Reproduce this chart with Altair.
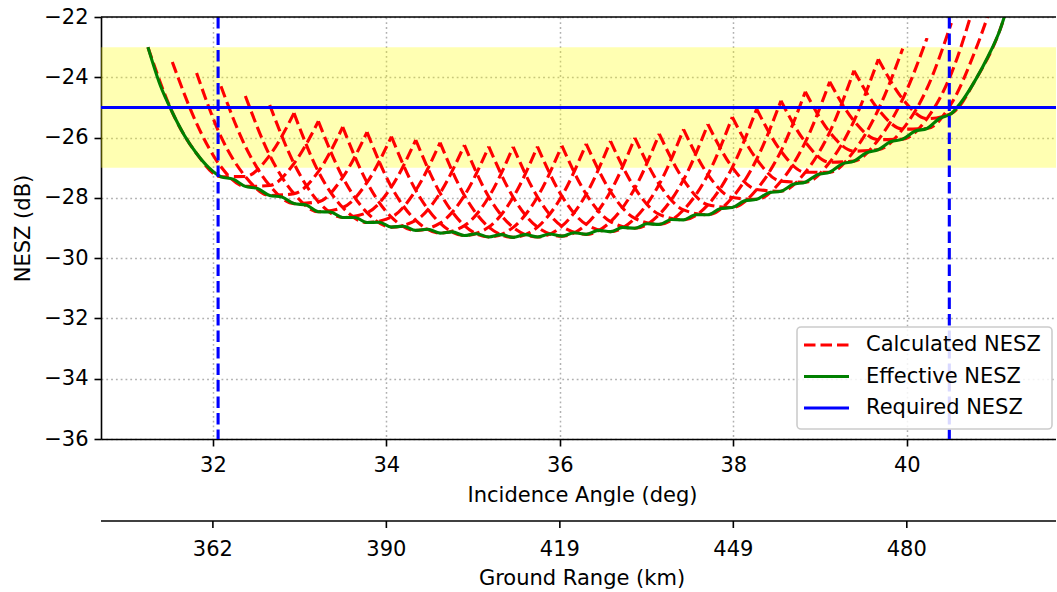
import altair as alt
import pandas as pd

# ---------------- data ----------------
# sample grid of incidence angles (deg) shared by all beams
grid_x = [31.251, 31.532, 31.812, 32.093, 32.374, 32.655, 32.935, 33.216, 33.497,
          33.777, 34.058, 34.339, 34.619, 34.900, 35.181, 35.462, 35.742, 36.023,
          36.304, 36.584, 36.865, 37.146, 37.426, 37.707, 37.988, 38.269, 38.549,
          38.830, 39.111, 39.391, 39.672, 39.953, 40.233, 40.514, 40.795, 41.075,
          41.356]

# calculated NESZ of each beam (dB); beam k is sampled at grid_x[k : k + 7]
calc_nesz = [
    [-23.00, -25.16, -26.53, -27.30, -27.29, -26.59, -25.19],
    [-23.49, -25.53, -26.97, -27.62, -27.59, -26.86, -25.46],
    [-23.86, -25.97, -27.29, -27.92, -27.86, -27.13, -25.65],
    [-24.30, -26.29, -27.59, -28.19, -28.13, -27.32, -25.82],
    [-24.62, -26.59, -27.86, -28.46, -28.32, -27.49, -25.97],
    [-24.92, -26.86, -28.13, -28.65, -28.49, -27.64, -26.08],
    [-25.19, -27.13, -28.32, -28.82, -28.64, -27.75, -26.17],
    [-25.46, -27.32, -28.49, -28.97, -28.75, -27.84, -26.25],
    [-25.65, -27.49, -28.64, -29.08, -28.84, -27.92, -26.30],
    [-25.82, -27.64, -28.75, -29.17, -28.92, -27.97, -26.31],
    [-25.97, -27.75, -28.84, -29.25, -28.97, -27.98, -26.30],
    [-26.08, -27.84, -28.92, -29.30, -28.98, -27.97, -26.27],
    [-26.17, -27.92, -28.97, -29.31, -28.97, -27.94, -26.21],
    [-26.25, -27.97, -28.98, -29.30, -28.94, -27.88, -26.12],
    [-26.30, -27.98, -28.97, -29.27, -28.88, -27.79, -26.01],
    [-26.31, -27.97, -28.94, -29.21, -28.79, -27.68, -25.88],
    [-26.30, -27.94, -28.88, -29.12, -28.68, -27.55, -25.73],
    [-26.27, -27.88, -28.79, -29.01, -28.55, -27.40, -25.56],
    [-26.21, -27.79, -28.68, -28.88, -28.40, -27.23, -25.32],
    [-26.12, -27.68, -28.55, -28.73, -28.23, -26.99, -25.05],
    [-26.01, -27.55, -28.40, -28.56, -27.99, -26.72, -24.78],
    [-25.88, -27.40, -28.23, -28.32, -27.72, -26.45, -24.48],
    [-25.73, -27.23, -27.99, -28.05, -27.45, -26.15, -24.15],
    [-25.56, -26.99, -27.72, -27.78, -27.15, -25.82, -23.78],
    [-25.32, -26.72, -27.45, -27.48, -26.82, -25.45, -23.40],
    [-25.05, -26.45, -27.15, -27.15, -26.45, -25.07, -23.05],
    [-24.78, -26.15, -26.82, -26.78, -26.07, -24.72, -22.70],
    [-24.48, -25.82, -26.45, -26.40, -25.72, -24.37, -22.20],
    [-24.15, -25.45, -26.07, -26.05, -25.37, -23.87, -21.40],
    [-23.78, -25.07, -25.72, -25.70, -24.87, -23.07, -20.75],
    [-23.40, -24.72, -25.37, -25.20, -24.07, -22.42, -19.60],
]

# effective NESZ (lower envelope)
eff_x = [31.251, 31.391, 31.532, 31.672, 31.812, 31.953, 32.093, 32.233, 32.374, 32.514,
         32.655, 32.795, 32.935, 33.076, 33.216, 33.356, 33.497, 33.637, 33.777, 33.918,
         34.058, 34.198, 34.339, 34.479, 34.619, 34.760, 34.900, 35.040, 35.181, 35.321,
         35.462, 35.602, 35.742, 35.883, 36.023, 36.163, 36.304, 36.444, 36.584, 36.725,
         36.865, 37.005, 37.146, 37.286, 37.426, 37.567, 37.707, 37.847, 37.988, 38.128,
         38.269, 38.409, 38.549, 38.690, 38.830, 38.970, 39.111, 39.251, 39.391, 39.532,
         39.672, 39.812, 39.953, 40.093, 40.233, 40.374, 40.514, 40.654, 40.795, 40.935,
         41.075, 41.216]
eff_y = [-23.00, -24.25, -25.16, -25.93, -26.53, -27.00, -27.30, -27.38, -27.62, -27.69,
         -27.92, -27.97, -28.19, -28.24, -28.46, -28.47, -28.65, -28.65, -28.82, -28.81,
         -28.97, -28.94, -29.08, -29.04, -29.17, -29.13, -29.25, -29.19, -29.30, -29.22,
         -29.31, -29.22, -29.30, -29.20, -29.27, -29.16, -29.21, -29.08, -29.12, -28.98,
         -29.01, -28.86, -28.88, -28.72, -28.73, -28.56, -28.56, -28.36, -28.32, -28.10,
         -28.05, -27.83, -27.78, -27.55, -27.48, -27.23, -27.15, -26.88, -26.78, -26.51,
         -26.40, -26.14, -26.05, -25.79, -25.70, -25.37, -25.20, -24.72, -24.07, -23.32,
         -22.42, -21.10]

band_low = [-27]
band_high = [-23]
required_nesz = [-25]
swath_edges = [32.06, 40.49]
inc_ticks = [32, 34, 36, 38, 40]
ground_range_labels = ["362", "390", "419", "449", "480"]
nesz_ticks = [-36, -34, -32, -30, -28, -26, -24, -22]
legend_labels = ["Calculated NESZ", "Effective NESZ", "Required NESZ"]

# ---------------- tables ----------------
rows = []
for k, ys_ in enumerate(calc_nesz):
    for j, y in enumerate(ys_):
        rows.append({"beam": k, "x": grid_x[k + j], "y": y})
calc_df = pd.DataFrame(rows)
eff_df = pd.DataFrame({"x": eff_x, "y": eff_y})
band_df = pd.DataFrame({"y": band_low, "hi": band_high})
req_df = pd.DataFrame({"y": required_nesz})
swath_df = pd.DataFrame({"x": swath_edges})
gr_df = pd.DataFrame({"x": inc_ticks, "label": ground_range_labels})

# ---------------- layout / style ----------------
W, H = 955, 422
FONT = "DejaVu Sans"
FS = 21
LW = 3.1
DASH = [11.5, 5]

xs = alt.Scale(domain=[30.71, 41.72], nice=False, zero=False)
ys = alt.Scale(domain=[-36, -22], nice=False, zero=False)
x_axis = alt.Axis(values=inc_ticks, title="Incidence Angle (deg)", grid=True,
                  labelPadding=8, titlePadding=9, titleX=481)
y_axis = alt.Axis(values=nesz_ticks, title="NESZ (dB)", grid=True,
                  labelPadding=6, titlePadding=10)


def X(field="x"):
    return alt.X(f"{field}:Q", scale=xs, axis=x_axis)


def Y(field="y"):
    return alt.Y(f"{field}:Q", scale=ys, axis=y_axis)


band = alt.Chart(band_df).mark_rect(color="yellow", opacity=0.3).encode(
    y=Y("y"), y2="hi:Q", x=alt.value(0), x2=alt.value(W))

red = alt.Chart(calc_df).mark_line(
    color="red", strokeWidth=LW, strokeDash=DASH, clip=True, interpolate="monotone"
).encode(x=X(), y=Y(), detail="beam:N")

green = alt.Chart(eff_df).mark_line(
    color="green", strokeWidth=LW, clip=True, interpolate="monotone"
).encode(x=X(), y=Y())

req = alt.Chart(req_df).mark_rule(color="blue", strokeWidth=LW).encode(
    y=Y(), x=alt.value(0), x2=alt.value(W))

swath = alt.Chart(swath_df).mark_rule(color="blue", strokeWidth=LW, strokeDash=DASH).encode(
    x=X(), y=alt.value(0), y2=alt.value(H))

top_spine = alt.Chart(req_df).mark_rule(color="black", strokeWidth=1.6).encode(
    x=alt.value(0), x2=alt.value(W), y=alt.value(0))

# secondary (ground range) axis
AY = H + 82
gr_line = alt.Chart(req_df).mark_rule(color="black", strokeWidth=1.6).encode(
    x=alt.value(0), x2=alt.value(W), y=alt.value(AY))
gr_ticks = alt.Chart(gr_df).mark_rule(color="black", strokeWidth=1.6).encode(
    x=X(), y=alt.value(AY), y2=alt.value(AY + 7))
gr_text = alt.Chart(gr_df).mark_text(font=FONT, fontSize=FS, baseline="middle",
                                     align="center", color="black").encode(
    x=X(), y=alt.value(AY + 29), text="label:N")
gr_title = alt.Chart(req_df).mark_text(font=FONT, fontSize=FS, baseline="middle",
                                       align="center", color="black",
                                       text="Ground Range (km)").encode(
    x=alt.value(481), y=alt.value(AY + 58))

# legend
LX0, LX1, LY0, LY1 = 696, 951, 310, 412
leg_box = alt.Chart(req_df).mark_rect(fill="white", fillOpacity=0.85, stroke="#cccccc",
                                      strokeWidth=1.6, cornerRadius=4).encode(
    x=alt.value(LX0), x2=alt.value(LX1), y=alt.value(LY0), y2=alt.value(LY1))
leg_layers = []
leg_styles = [("red", DASH), ("green", None), ("blue", None)]
for i, (lab, (col, dash)) in enumerate(zip(legend_labels, leg_styles)):
    yy = 328 + i * 31.5
    kw = dict(color=col, strokeWidth=LW)
    if dash:
        kw["strokeDash"] = dash
    leg_layers.append(alt.Chart(req_df).mark_rule(**kw).encode(
        x=alt.value(703), x2=alt.value(748), y=alt.value(yy)))
    leg_layers.append(alt.Chart(req_df).mark_text(
        font=FONT, fontSize=FS, align="left", baseline="middle", color="black",
        text=lab).encode(x=alt.value(765), y=alt.value(yy)))

chart = alt.layer(
    band, red, green, req, swath, top_spine, gr_line, gr_ticks, gr_text, gr_title,
    leg_box, *leg_layers
).properties(
    width=W, height=H,
    autosize=alt.AutoSizeParams(type="none"),
    padding={"left": 101, "top": 17, "right": 0, "bottom": 150},
).configure_view(strokeWidth=0).configure_axis(
    labelFont=FONT, titleFont=FONT, labelFontSize=FS, titleFontSize=FS,
    labelColor="black", titleColor="black", titleFontWeight="normal",
    domainColor="black", domainWidth=1.6, tickColor="black", tickWidth=1.6,
    tickSize=7, gridColor="#b0b0b0", gridDash=[1.8, 3], gridWidth=1.5,
)

chart.save("out.html", embed_options={"renderer": "svg", "actions": False})
